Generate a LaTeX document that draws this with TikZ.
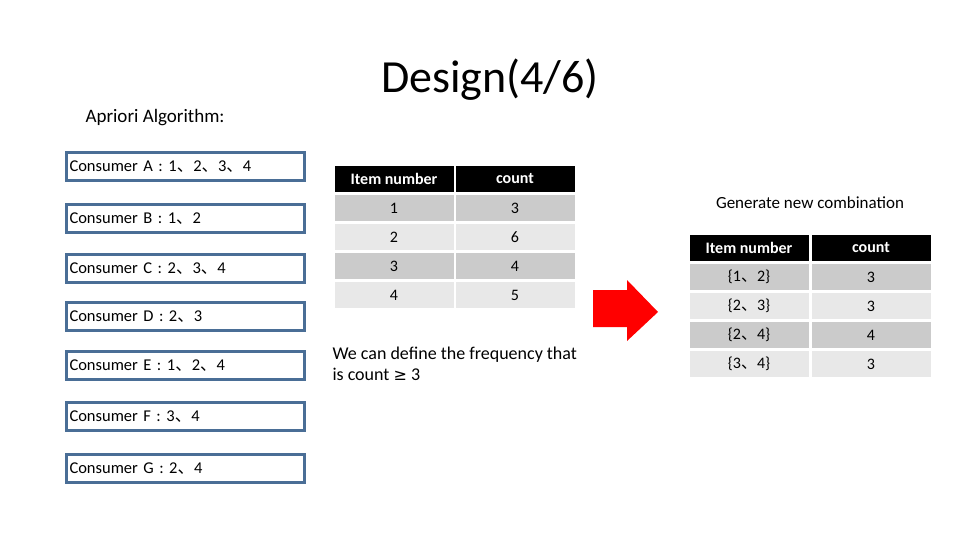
\documentclass[tikz,border=0pt]{standalone}
\usepackage{fontspec}
\setmainfont{Carlito}
\newfontfamily\cjk{Noto Sans CJK SC}
\newcommand{\dun}{{\cjk 、}}
\usetikzlibrary{positioning}
\definecolor{cadrebleu}{HTML}{4A6E96}
\definecolor{grisfonce}{HTML}{CBCBCB}
\definecolor{grisclair}{HTML}{E8E8E8}
\begin{document}
\begin{tikzpicture}[x=1pt,y=-1pt]
% Styles
\tikzset{
  client/.style={draw=cadrebleu,line width=3pt,minimum width=238pt,minimum height=28pt,anchor=north west,inner sep=0pt,text width=232pt,align=left,font=\fontsize{16.5}{18}\selectfont},
  entete/.style={fill=black,text=white,minimum width=119pt,minimum height=26pt,inner sep=0pt,font=\bfseries\fontsize{16}{18}\selectfont},
  cellule/.style={minimum width=119pt,minimum height=26pt,inner sep=0pt,font=\fontsize{16}{18}\selectfont},
}
\useasboundingbox (0,0) rectangle (960,540);
% Titres
\node (titre) at (490,80) {\fontsize{46}{50}\selectfont Design(4/6)};
\node[anchor=west] (algo) at (82,118) {\fontsize{19}{22}\selectfont Apriori Algorithm:};
% Consommateurs
\node[client] (cA) at (65,151) {Consumer A : 1\dun2\dun3\dun4};
\node[client] (cB) at (65,203) {Consumer B : 1\dun2};
\node[client] (cC) at (65,253) {Consumer C : 2\dun3\dun4};
\node[client] (cD) at (65,301) {Consumer D : 2\dun3};
\node[client] (cE) at (65,350) {Consumer E : 1\dun2\dun4};
\node[client] (cF) at (65,401) {Consumer F : 3\dun4};
\node[client] (cG) at (65,453) {Consumer G : 2\dun4};
% Premier tableau
\node[entete] (hA) at (394,179) {Item number};
\node[entete] (hB) at (515,179) {count};
\foreach \i/\a/\b/\c in {1/1/3/grisfonce,2/2/6/grisclair,3/3/4/grisfonce,4/4/5/grisclair}{
  \node[cellule,fill=\c] (pA\i) at (394,179+29*\i) {\a};
  \node[cellule,fill=\c] (pB\i) at (515,179+29*\i) {\b};
}
\node[anchor=north west,align=left,font=\fontsize{18}{21}\selectfont] (note) at (329,343) {We can define the frequency that\\is count {\fontspec{DejaVu Sans}\fontsize{16}{18}\selectfont ≥} 3};
% Fleche
\fill[red] (593,290) -- (627,290) -- (627,280) -- (658,312) -- (627,341) -- (627,327) -- (593,327) -- cycle;
% Second tableau
\node[font=\fontsize{17}{20}\selectfont] (gen) at (810,203) {Generate new combination};
\node[entete] (hC) at (749,248) {Item number};
\node[entete] (hD) at (871,248) {count};
\foreach \i/\a/\b/\c in {1/{1\dun 2}/3/grisfonce,2/{2\dun 3}/3/grisclair,3/{2\dun 4}/4/grisfonce,4/{3\dun 4}/3/grisclair}{
  \node[cellule,fill=\c] (qA\i) at (749,248+29*\i) {\{\a\}};
  \node[cellule,fill=\c] (qB\i) at (871,248+29*\i) {\b};
}
\end{tikzpicture}
\end{document}
